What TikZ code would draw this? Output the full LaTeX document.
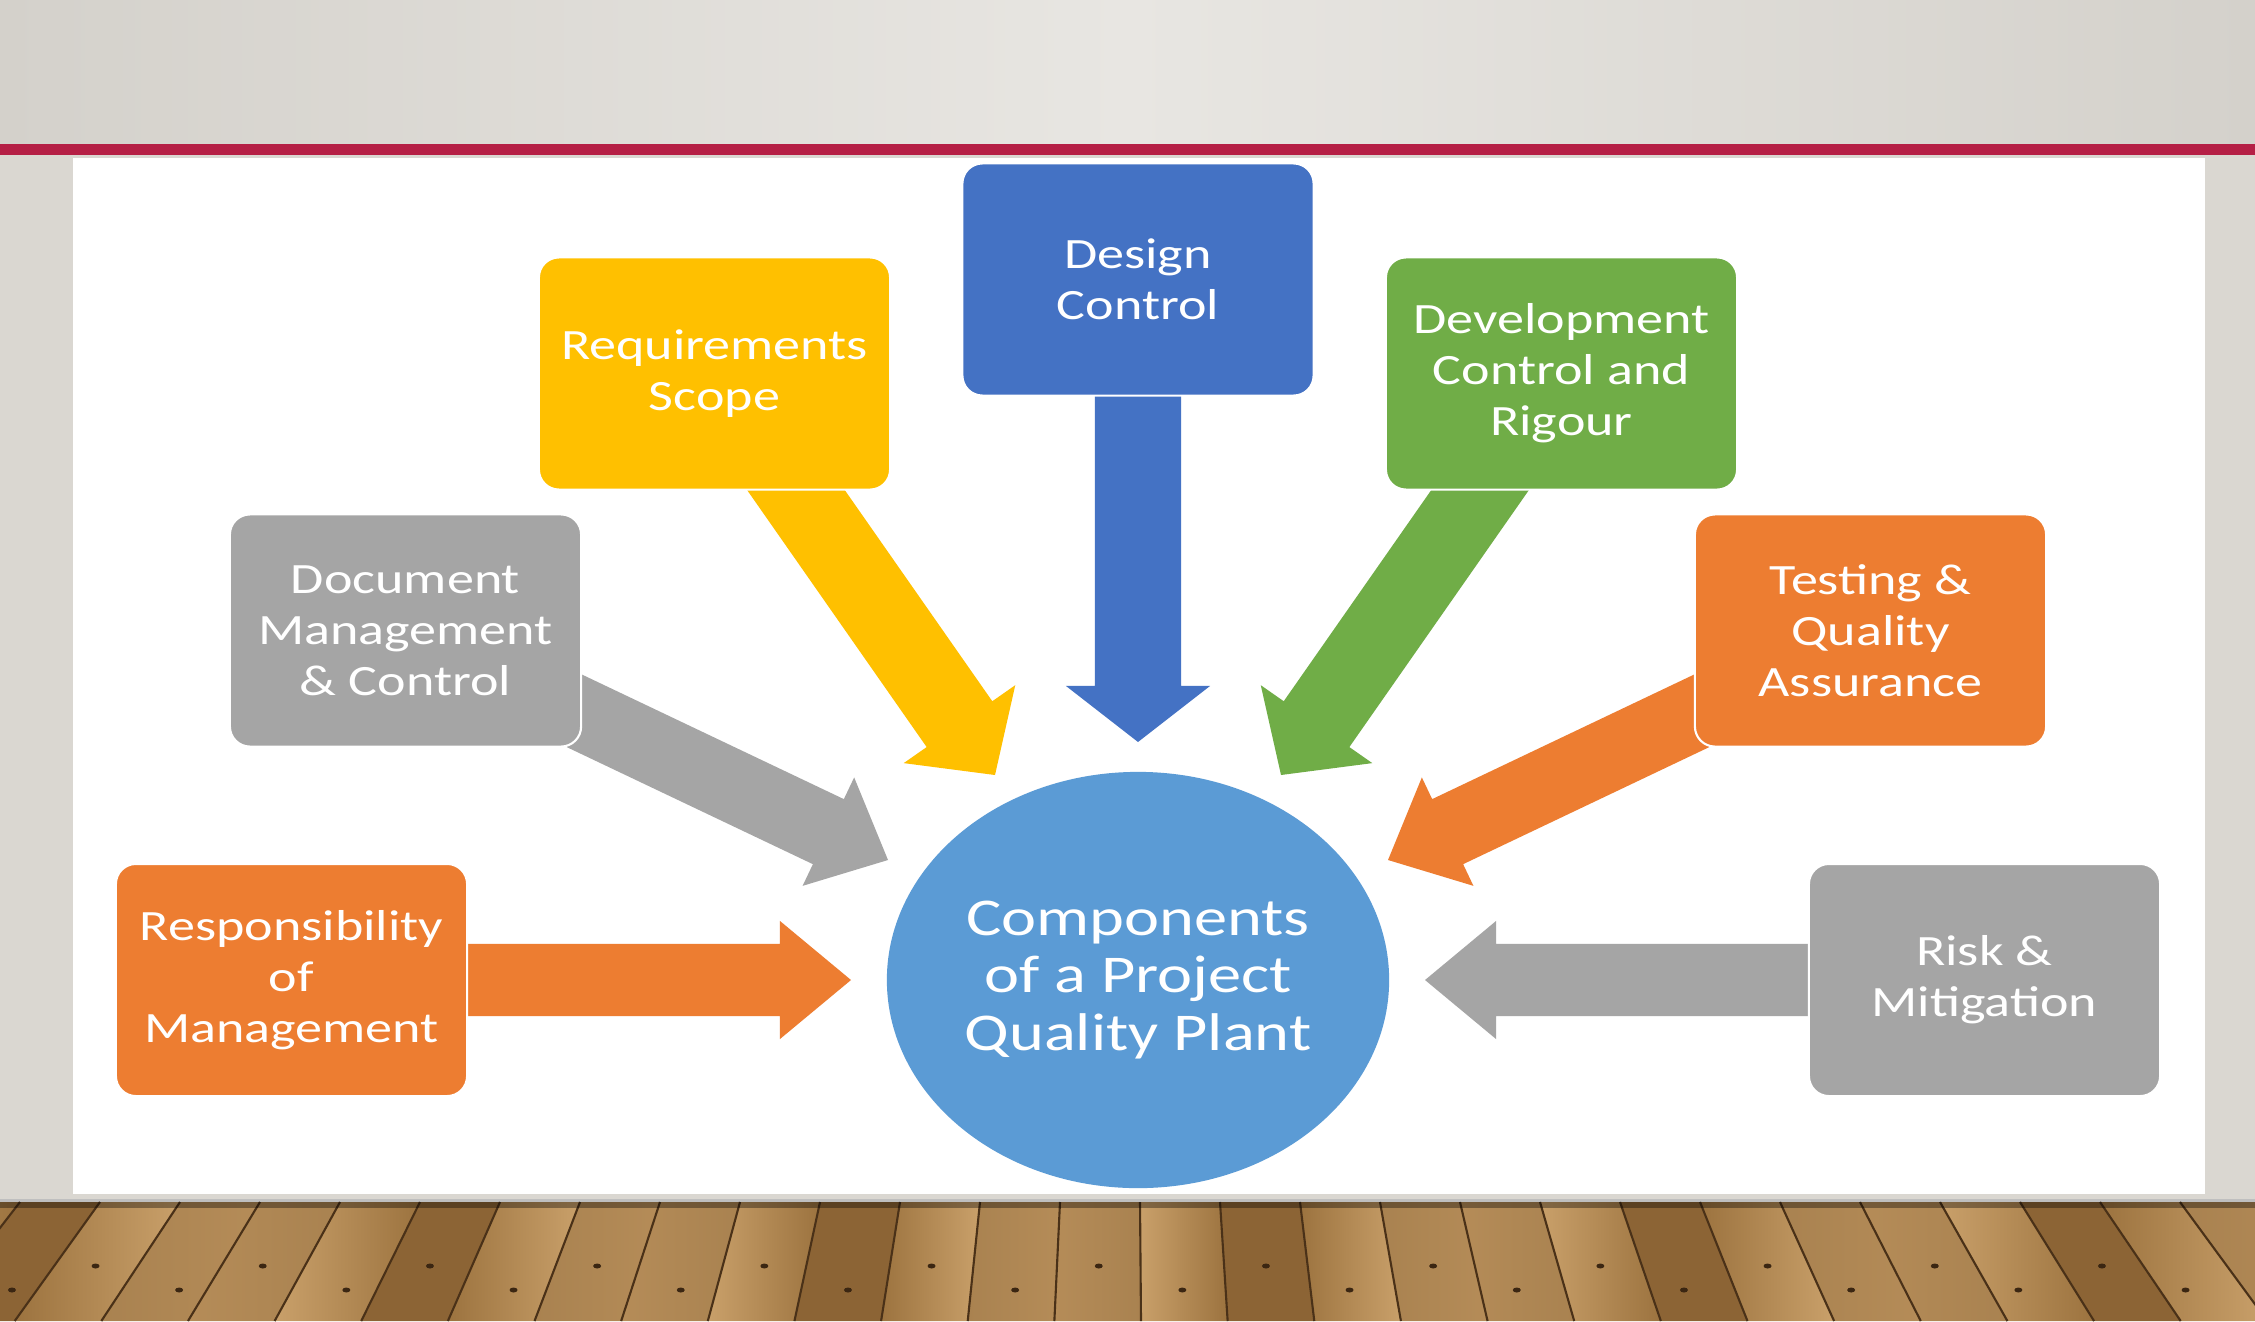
\documentclass[tikz,border=0pt]{standalone}
\usepackage{fontspec}
\usepackage{tikz}
\usetikzlibrary{calc,shapes.geometric,positioning}
\newfontfamily\labelfont[FakeStretch=1.25]{Carlito}

\definecolor{qorange}{HTML}{ED7D31}
\definecolor{qgray}{HTML}{A5A5A5}
\definecolor{qyellow}{HTML}{FFC000}
\definecolor{qblue}{HTML}{4472C4}
\definecolor{qgreen}{HTML}{70AD47}
\definecolor{qsky}{HTML}{5B9BD5}
\definecolor{redbar}{HTML}{B51F45}
\definecolor{bgedge}{HTML}{D4D1CB}
\definecolor{bgmid}{HTML}{E8E6E2}
\definecolor{sidegrey}{HTML}{DAD7D1}
\definecolor{wood0}{HTML}{B58C58}
\definecolor{wood1}{HTML}{9C733F}
\definecolor{wood2}{HTML}{C9A06A}
\definecolor{wood3}{HTML}{A98250}
\definecolor{wood4}{HTML}{8C6435}
\definecolor{woodline}{HTML}{4A3118}
\definecolor{knot}{HTML}{3B2612}

\pgfdeclarelayer{back}
\pgfdeclarelayer{mid}
\pgfsetlayers{back,mid,main}

\newcommand{\blockarrow}[6]{%
  \coordinate (hb) at ($(#2)!#5!(#1)$);
  \fill[#6] ($(#1)!#3!90:(#2)$) -- ($(hb)!#3!90:(#2)$) -- ($(hb)!#4!90:(#2)$)
    -- (#2) -- ($(hb)!#4!-90:(#2)$) -- ($(hb)!#3!-90:(#2)$)
    -- ($(#1)!#3!-90:(#2)$) -- cycle;
}

\begin{document}
\begin{tikzpicture}[x=0.01cm, y=-0.01cm,
  box/.style={rectangle, rounded corners=0.2cm, draw=white, line width=0.6pt,
    minimum width=3.51cm, minimum height=2.32cm, align=center, text=white,
    font=\labelfont\fontsize{12.3}{14.5}\selectfont},
  hub/.style={ellipse, fill=qsky, minimum width=5.02cm, minimum height=4.16cm,
    inner sep=0pt, align=center, text=white,
    font=\labelfont\fontsize{15.1}{16.4}\selectfont}]

\useasboundingbox (0,0) rectangle (2255,1321);

\node[box, fill=qorange] (resp) at (291.5,980) {Responsibility\\of\\Management};
\node[box, fill=qgray] (doc) at (405.5,630.5) {Document\\Management\\\& Control};
\node[box, fill=qyellow] (req) at (714.5,373.5) {Requirements\\Scope};
\node[box, fill=qblue] (design) at (1138,279.5) {Design\\Control};
\node[box, fill=qgreen] (dev) at (1561.5,373.5) {Development\\Control and\\Rigour};
\node[box, fill=qorange] (test) at (1870.5,630.5) {Testing \&\\Quality\\Assurance};
\node[box, fill=qgray] (risk) at (1984.5,980) {Risk \&\\Mitigation};
\node[hub] (plan) at (1138,980) {Components\\of a Project\\Quality Plant};

\coordinate (resp-tip) at (851,980);
\coordinate (doc-tip) at (888,860);
\coordinate (req-tip) at (995,775);
\coordinate (design-tip) at (1138,742);
\coordinate (dev-tip) at (1281,775);
\coordinate (test-tip) at (1388,860);
\coordinate (risk-tip) at (1425,980);

\begin{pgfonlayer}{mid}
\blockarrow{resp.center}{resp-tip}{0.36cm}{0.59cm}{0.71cm}{qorange}
\blockarrow{risk.center}{risk-tip}{0.36cm}{0.59cm}{0.71cm}{qgray}
\blockarrow{doc.center}{doc-tip}{0.36cm}{0.6cm}{0.66cm}{qgray}
\blockarrow{test.center}{test-tip}{0.36cm}{0.6cm}{0.66cm}{qorange}
\blockarrow{req.center}{req-tip}{0.4cm}{0.68cm}{0.62cm}{qyellow}
\blockarrow{dev.center}{dev-tip}{0.4cm}{0.68cm}{0.62cm}{qgreen}
\blockarrow{design.center}{design-tip}{0.43cm}{0.72cm}{0.56cm}{qblue}
\end{pgfonlayer}

\begin{pgfonlayer}{back}
\shade[left color=bgedge, right color=bgedge, middle color=bgmid] (0,0) rectangle (2255,144);
\fill[redbar] (0,144) rectangle (2255,155);
\fill[sidegrey] (0,155) rectangle (2255,1202);
\fill[white] (73,158) rectangle (2205,1194);
\fill[black!25] (0,1199) rectangle (2255,1202);
\foreach \i in {0,...,29}{
  \pgfmathsetmacro\xa{-60+80*\i}
  \pgfmathsetmacro\xb{\xa+80}
  \pgfmathsetmacro\xc{1128+(\xa-1128)*1.083}
  \pgfmathsetmacro\xd{1128+(\xb-1128)*1.083}
  \pgfmathtruncatemacro\k{mod(\i*7+2,5)}
  \pgfmathtruncatemacro\m{mod(\i*3+1,5)}
  \pgfmathsetmacro\xk{1128+((\xa+\xb)/2-1128)*1.045}
  \pgfmathsetmacro\yk{1266+mod(\i,2)*24}
  \shade[left color=wood\k, right color=wood\m] (\xa,1202) -- (\xb,1202) -- (\xd,1321) -- (\xc,1321) -- cycle;
  \draw[woodline, line width=0.6pt] (\xa,1202) -- (\xc,1321);
  \fill[knot] (\xk,\yk) ellipse (0.04cm and 0.025cm);
}
\fill[black, opacity=0.35] (0,1202) rectangle (2255,1208);
\end{pgfonlayer}
\end{tikzpicture}
\end{document}
